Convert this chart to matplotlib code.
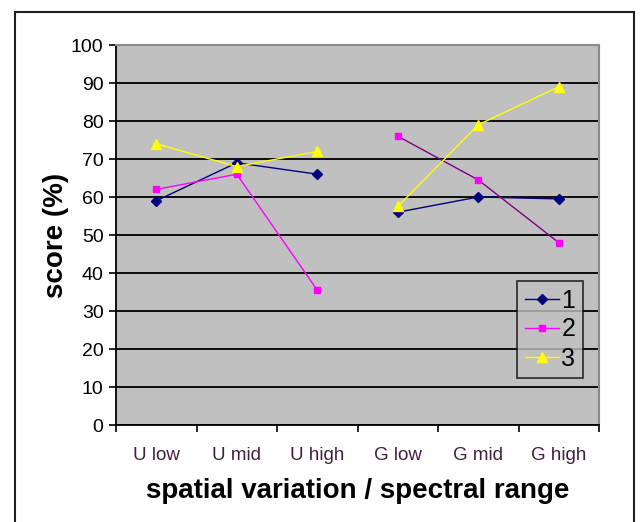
import numpy as np
import matplotlib.pyplot as plt
from matplotlib.patches import Rectangle

categories = ['U low', 'U mid', 'U high', 'G low', 'G mid', 'G high']
series_names = ['1', '2', '3']
s1 = [59, 69, 66, 56, 60, 59.5]
s2 = [62, 66, 35.5, 76, 64.5, 48]
s3 = [74, 68, 72, 57.5, 79, 89]

plt.rcParams['font.family'] = ['Liberation Sans', 'DejaVu Sans']

fig = plt.figure(figsize=(6.4, 5.22), dpi=100)
ax = fig.add_axes([116/640, 1 - 425/522, 483/640, 380/522])
ax.set_facecolor('#c0c0c0')

# outer chart frame
fig.patches.append(Rectangle((15/640, -0.05), 619/640, 1.05 - 12/522,
                             transform=fig.transFigure, fill=False,
                             edgecolor='#202020', linewidth=1.5, clip_on=False))

x = np.arange(len(categories))
styles = [
    dict(color='#000080', marker='D', ms=5),
    dict(color='#ff00ff', marker='s', ms=5),
    dict(color='#ffff00', marker='^', ms=7),
]
# second half line colours (Excel drew series 2 in purple there)
g_colors = ['#000080', '#800080', '#ffff00']

handles = []
for vals, st, gc, name in zip([s1, s2, s3], styles, g_colors, series_names):
    vals = np.array(vals)
    h, = ax.plot(x[:3], vals[:3], color=st['color'], lw=1, marker=st['marker'],
                 ms=st['ms'], mec=st['color'], mfc=st['color'], zorder=3, label=name)
    ax.plot(x[3:], vals[3:], color=gc, lw=1, zorder=3)
    ax.plot(x[3:], vals[3:], ls='none', marker=st['marker'], ms=st['ms'],
            mec=st['color'], mfc=st['color'], zorder=4)
    handles.append(h)

ax.set_xlim(-0.5, 5.5)
ax.set_ylim(0, 100)
ax.set_yticks(np.arange(0, 101, 10))
ax.yaxis.grid(True, color='black', lw=1.3)
ax.set_axisbelow(True)

ax.set_xticks(np.arange(-0.5, 6, 1))
ax.set_xticklabels([])
ax.set_xticks(x, minor=True)
ax.set_xticklabels(categories, minor=True, color='#402040', fontsize=13.5)
ax.tick_params(axis='x', which='minor', length=0, pad=16)
ax.tick_params(axis='x', which='major', length=5, width=1.2, direction='out')
ax.tick_params(axis='y', length=5, width=1.2, direction='out', labelsize=14, pad=4)

for side in ['top', 'right']:
    ax.spines[side].set_color('#8a8a8a')
    ax.spines[side].set_linewidth(1.5)
for side in ['left', 'bottom']:
    ax.spines[side].set_color('black')
    ax.spines[side].set_linewidth(1.3)

ax.set_xlabel('spatial variation / spectral range', fontsize=20, fontweight='bold', labelpad=10)
ax.set_ylabel('score (%)', fontsize=20, fontweight='bold', labelpad=1)

leg = ax.legend(handles=handles, loc='upper left', bbox_to_anchor=(401/483, 144/380),
                frameon=True, fancybox=False, fontsize=18, handlelength=1.36,
                handletextpad=0.12, borderpad=0.3, labelspacing=0.2, borderaxespad=0)
leg.get_frame().set_edgecolor('black')
leg.get_frame().set_facecolor('#c0c0c0')
leg.get_frame().set_linewidth(1.2)

fig.savefig('out.png', dpi=100)
